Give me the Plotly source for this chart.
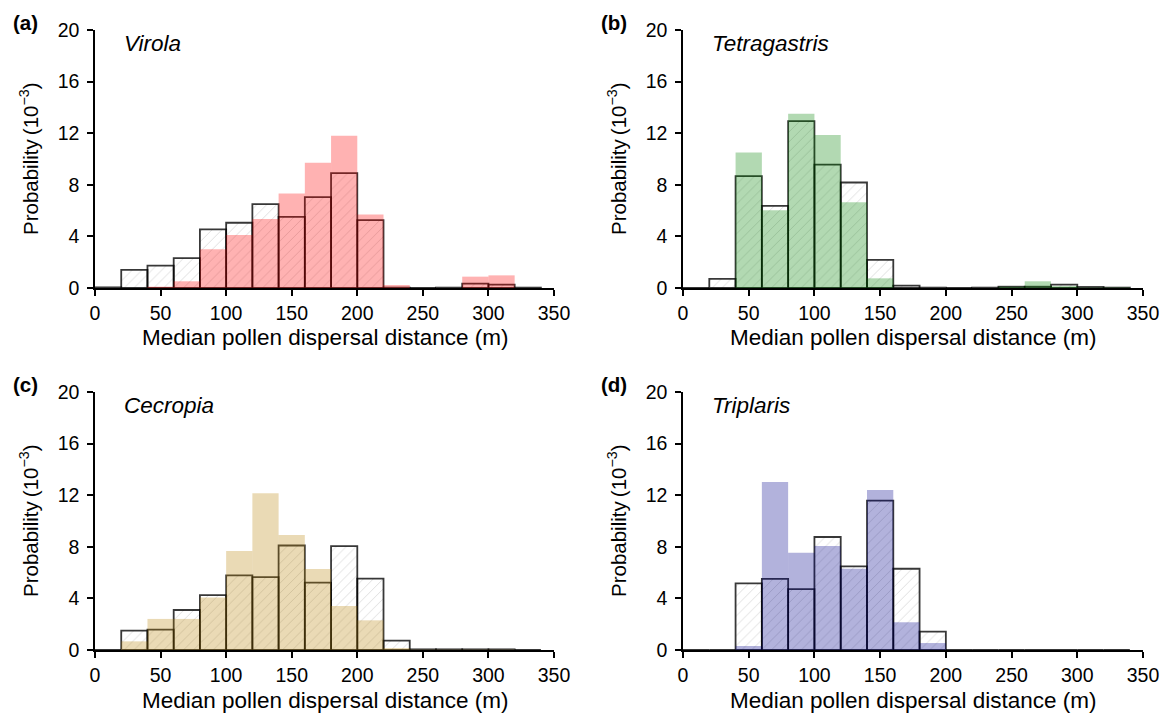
import plotly.graph_objects as go

bin_left = [0, 20, 40, 60, 80, 100, 120, 140, 160, 180, 200, 220, 240, 260, 280, 300, 320]
bin_width = 20

# Hatched (outlined) series, probability x 10^-3
virola_hatch = [0.05, 1.4, 1.73, 2.32, 4.55, 5.06, 6.5, 5.52, 7.05, 8.9, 5.26, 0.03, 0.0, 0.03, 0.34, 0.26, 0.03]
virola_fill = [0.0, 0.0, 0.1, 0.52, 3.0, 4.1, 5.34, 7.33, 9.7, 11.8, 5.7, 0.23, 0.0, 0.0, 0.88, 0.98, 0.0]

tetra_hatch = [0.0, 0.7, 8.68, 6.36, 12.94, 9.56, 8.18, 2.18, 0.18, 0.03, 0.0, 0.03, 0.1, 0.1, 0.26, 0.08, 0.03]
tetra_fill = [0.0, 0.0, 10.5, 6.03, 13.5, 11.87, 6.65, 0.75, 0.0, 0.0, 0.0, 0.0, 0.1, 0.52, 0.15, 0.03, 0.03]

cecro_hatch = [0.0, 1.5, 1.58, 3.1, 4.25, 5.78, 5.65, 8.1, 5.23, 8.06, 5.54, 0.73, 0.05, 0.05, 0.05, 0.05, 0.0]
cecro_fill = [0.0, 0.67, 2.41, 2.41, 4.07, 7.67, 12.15, 8.91, 6.27, 3.42, 2.3, 0.15, 0.02, 0.02, 0.02, 0.02, 0.0]

tripl_hatch = [0.0, 0.0, 5.16, 5.52, 4.72, 8.76, 6.48, 11.58, 6.3, 1.42, 0.0, 0.0, 0.0, 0.0, 0.0, 0.0, 0.0]
tripl_fill = [0.0, 0.0, 0.31, 13.03, 7.54, 8.06, 6.3, 12.4, 2.15, 0.54, 0.0, 0.0, 0.0, 0.0, 0.0, 0.0, 0.0]

panels = [
    ("(a)", "Virola", virola_hatch, virola_fill, "rgba(255,0,0,0.30)"),
    ("(b)", "Tetragastris", tetra_hatch, tetra_fill, "rgba(0,128,0,0.30)"),
    ("(c)", "Cecropia", cecro_hatch, cecro_fill, "rgba(184,134,11,0.30)"),
    ("(d)", "Triplaris", tripl_hatch, tripl_fill, "rgba(0,0,139,0.30)"),
]

W, H = 1167, 715
# pixel boxes of plot areas: (left, right, top, bottom)
boxes = [(95, 554, 30, 288), (683, 1143, 30, 288), (95, 554, 392, 650), (683, 1143, 392, 650)]

FONT = "Liberation Sans, Arial, sans-serif"
fig = go.Figure()
centers = [b + bin_width / 2 for b in bin_left]

layout = dict(
    width=W, height=H, margin=dict(l=0, r=0, t=0, b=0, autoexpand=False),
    plot_bgcolor="white", paper_bgcolor="white",
    barmode="overlay", showlegend=False,
    font=dict(family=FONT, size=19, color="black"),
)
annotations = []
for i, (lab, name, hatch, fill, col) in enumerate(panels):
    k = "" if i == 0 else str(i + 1)
    l, r, t, b = boxes[i]
    xd = [l / W, r / W]
    yd = [1 - b / H, 1 - t / H]
    fig.add_trace(go.Bar(
        x=centers, y=hatch, width=bin_width, xaxis="x" + k, yaxis="y" + k,
        marker=dict(color="rgba(255,255,255,0)",
                    line=dict(color="rgba(0,0,0,0.78)", width=1.8),
                    pattern=dict(shape="/", fgcolor="rgba(140,140,140,0.6)",
                                 bgcolor="rgba(255,255,255,0)", size=7, solidity=0.13)),
    ))
    fig.add_trace(go.Bar(
        x=centers, y=fill, width=bin_width, xaxis="x" + k, yaxis="y" + k,
        marker=dict(color=col, line=dict(width=0)),
    ))
    layout["xaxis" + k] = dict(
        domain=xd, range=[0, 350], tickvals=[0, 50, 100, 150, 200, 250, 300, 350],
        showline=True, linecolor="black", linewidth=1.5, ticks="outside", ticklen=6,
        tickwidth=1.5, tickcolor="black", showgrid=False, zeroline=False,
        anchor="y" + k, tickfont=dict(size=19.5), ticklabelstandoff=1, automargin=False,
    )
    layout["yaxis" + k] = dict(
        domain=yd, range=[0, 20], tickvals=[0, 4, 8, 12, 16, 20],
        showline=True, linecolor="black", linewidth=1.5, ticks="outside", ticklen=6,
        tickwidth=1.5, tickcolor="black", showgrid=False, zeroline=False,
        anchor="x" + k, tickfont=dict(size=19.5), ticklabelstandoff=4, automargin=False,
    )
    # panel label
    annotations.append(dict(text="<b>" + lab + "</b>", xref="paper", yref="paper",
                            x=(l - 84) / W, y=1 - (t - 8) / H, xanchor="left", yanchor="middle",
                            showarrow=False, font=dict(size=20.5)))
    annotations.append(dict(text="<i>" + name + "</i>", xref="paper", yref="paper",
                            x=(l + 27) / W, y=1 - (t + 13) / H, xanchor="left", yanchor="middle",
                            showarrow=False, font=dict(size=22.5)))
    annotations.append(dict(text="Median pollen dispersal distance (m)", xref="paper", yref="paper",
                            x=(l + r) / 2 / W, y=1 - (b + 50) / H, xanchor="center", yanchor="middle",
                            showarrow=False, font=dict(size=22.5)))
    annotations.append(dict(text="Probability\u2009(10<sup>\u22123</sup>)", xref="paper", yref="paper",
                            x=(l - 66) / W, y=1 - (t + b) / 2 / H, xanchor="center", yanchor="middle",
                            textangle=-90, showarrow=False, font=dict(size=20.5)))

layout["annotations"] = annotations
fig.update_layout(**layout)
fig.write_html("out.html")
